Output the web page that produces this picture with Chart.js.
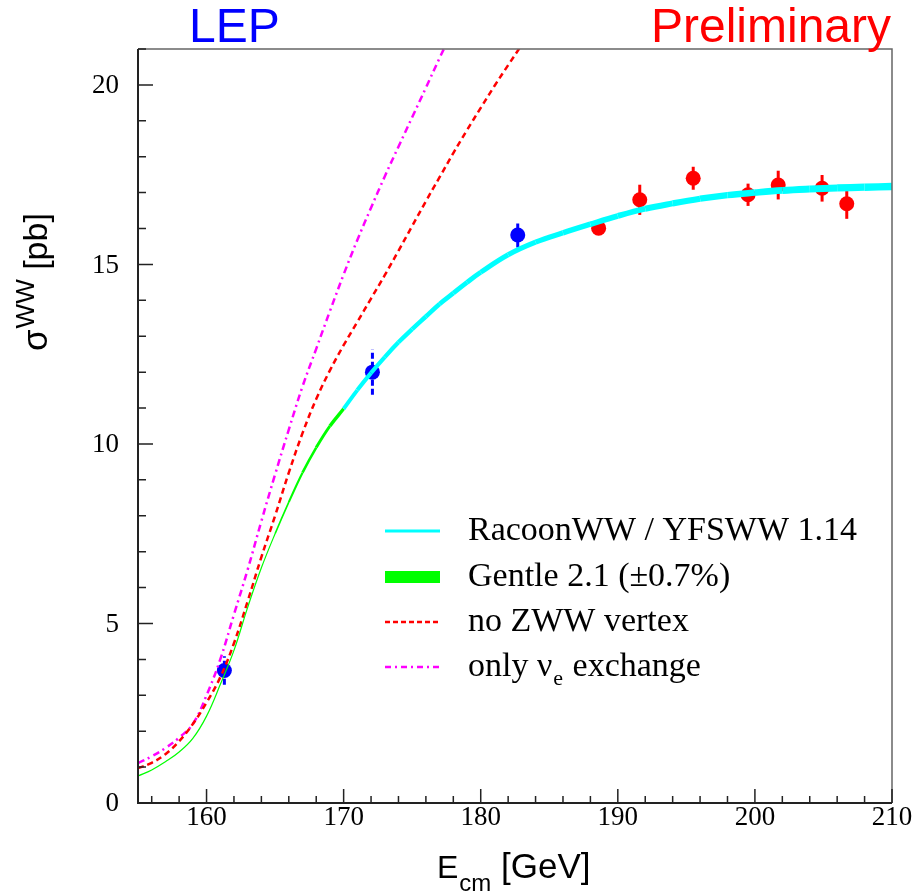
<!DOCTYPE html>
<html>
<head>
<meta charset="utf-8">
<script src="https://cdn.jsdelivr.net/npm/chart.js@4.4.1/dist/chart.umd.min.js"></script>
<style>
  html, body { margin: 0; padding: 0; background: #fff; }
  #wrap { width: 916px; height: 895px; }
</style>
</head>
<body>
<div id="wrap"><canvas id="ww-chart" width="916" height="895"></canvas></div>
<script>
// W-pair cross section vs centre-of-mass energy
var racoonE = [170, 171, 172, 173, 174, 175, 176, 177, 178, 179, 180, 182, 184, 186, 188, 190, 192, 194, 196, 198, 200, 202, 204, 206, 208, 210];
var racoonXsec = [10.98, 11.5, 11.98, 12.42, 12.83, 13.2, 13.55, 13.9, 14.2, 14.5, 14.78, 15.27, 15.62, 15.88, 16.12, 16.35, 16.55, 16.7, 16.83, 16.93, 17.0, 17.06, 17.1, 17.13, 17.15, 17.17];

var gentleE = [155, 156, 157, 158, 159, 160, 161, 162, 163, 164, 165, 166, 167, 168, 169, 170];
var gentleXsec = [0.75, 0.92, 1.15, 1.42, 1.8, 2.42, 3.3, 4.25, 5.45, 6.55, 7.5, 8.38, 9.2, 9.9, 10.5, 10.98];

var noZwwE = [155, 156, 157, 158, 159, 160, 161, 162, 163, 164, 165, 166, 167, 168, 169, 170, 171, 172, 173, 174, 175, 176, 177, 178, 179, 180, 181, 182, 183];
var noZwwXsec = [0.97, 1.12, 1.36, 1.72, 2.2, 2.8, 3.5, 4.45, 5.62, 6.85, 8.0, 9.2, 10.3, 11.25, 12.05, 12.75, 13.4, 14.05, 14.7, 15.38, 16.07, 16.76, 17.43, 18.1, 18.74, 19.36, 19.97, 20.55, 21.12];

var onlyNueE = [155, 156, 157, 158, 159, 160, 161, 162, 163, 164, 165, 166, 167, 168, 169, 170, 171, 172, 173, 174, 175, 176, 177, 178];
var onlyNueXsec = [1.11, 1.3, 1.53, 1.82, 2.2, 3.0, 4.0, 5.25, 6.5, 7.85, 9.15, 10.4, 11.6, 12.65, 13.7, 14.72, 15.68, 16.58, 17.45, 18.28, 19.1, 19.92, 20.75, 21.55];

// measurements
var lepE = [161.3, 172.1, 182.7];
var lepXsec = [3.69, 12.0, 15.82];
var lepErr = [0.40, 0.63, 0.35];

var prelimE = [188.6, 191.6, 195.5, 199.5, 201.7, 204.9, 206.7];
var prelimXsec = [16.01, 16.80, 17.40, 16.94, 17.21, 17.12, 16.69];
var prelimErr = [0.18, 0.42, 0.32, 0.31, 0.40, 0.37, 0.42];

var xTicks = [160, 170, 180, 190, 200, 210];
var yTicks = [0, 5, 10, 15, 20];

var SANS = '"Liberation Sans", Arial, sans-serif';
var SERIF = '"Liberation Serif", "Times New Roman", serif';

function pts(xs, ys) {
  return xs.map(function (x, i) { return { x: x, y: ys[i] }; });
}

// draws the vertical error bar of each measurement just before its markers
var errorBars = {
  id: 'errorBars',
  beforeDatasetDraw: function (chart, args) {
    var ds = chart.data.datasets[args.index];
    if (!ds.errors) return;
    var xs = chart.scales.x, ys = chart.scales.y, ctx = chart.ctx;
    ctx.save();
    ctx.strokeStyle = ds.pointBackgroundColor;
    ctx.lineWidth = 3;
    ctx.setLineDash(ds.errorDash || []);
    ds.data.forEach(function (p, i) {
      var px = xs.getPixelForValue(p.x);
      ctx.beginPath();
      ctx.moveTo(px, ys.getPixelForValue(p.y - ds.errors[i]));
      ctx.lineTo(px, ys.getPixelForValue(p.y + ds.errors[i]));
      ctx.stroke();
    });
    ctx.restore();
  }
};

// frame, inward ticks, labels, titles and the legend box
var decorations = {
  id: 'decorations',
  afterDraw: function (chart) {
    var ctx = chart.ctx, a = chart.chartArea;
    var xs = chart.scales.x, ys = chart.scales.y;
    ctx.save();

    // top and right edges
    ctx.strokeStyle = '#666';
    ctx.lineWidth = 1.5;
    ctx.beginPath();
    ctx.moveTo(a.left, a.top); ctx.lineTo(a.right, a.top); ctx.lineTo(a.right, a.bottom);
    ctx.stroke();

    // axes
    ctx.strokeStyle = '#222';
    ctx.lineWidth = 2;
    ctx.beginPath();
    ctx.moveTo(a.left, a.top); ctx.lineTo(a.left, a.bottom); ctx.lineTo(a.right, a.bottom);
    ctx.stroke();

    ctx.lineWidth = 1.5;
    ctx.beginPath();
    for (var v = 0; v <= 21; v++) {
      var py = ys.getPixelForValue(v);
      var len = (v % 5 === 0) ? 15 : 8;
      ctx.moveTo(a.left, py); ctx.lineTo(a.left + len, py);
    }
    for (var e = 156; e <= 210; e += 2) {
      var px = xs.getPixelForValue(e);
      var l2 = (e % 10 === 0) ? 14 : 7;
      ctx.moveTo(px, a.bottom); ctx.lineTo(px, a.bottom - l2);
    }
    ctx.stroke();

    // tick labels
    ctx.fillStyle = '#000';
    ctx.font = '27px ' + SERIF;
    ctx.textAlign = 'right';
    ctx.textBaseline = 'middle';
    yTicks.forEach(function (t) { ctx.fillText(String(t), a.left - 19, ys.getPixelForValue(t) + 1); });
    ctx.textAlign = 'center';
    ctx.textBaseline = 'alphabetic';
    xTicks.forEach(function (t) { ctx.fillText(String(t), xs.getPixelForValue(t), 825); });

    // x title
    ctx.textAlign = 'left';
    ctx.font = '32px ' + SANS;
    ctx.fillText('E', 437, 878);
    var wE = ctx.measureText('E').width;
    ctx.font = '24px ' + SANS;
    ctx.fillText('cm', 437 + wE + 1, 891);
    var wCm = ctx.measureText('cm').width;
    ctx.font = '35px ' + SANS;
    ctx.fillText(' [GeV]', 437 + wE + 1 + wCm, 878);

    // y title
    ctx.save();
    ctx.translate(47, 351);
    ctx.rotate(-Math.PI / 2);
    ctx.font = '35px ' + SANS;
    ctx.fillText('\u03c3', 0, 0);
    var wS = ctx.measureText('\u03c3').width;
    ctx.font = '26px ' + SANS;
    ctx.fillText('WW', wS + 1, -13);
    var wW = ctx.measureText('WW').width;
    ctx.font = '34px ' + SANS;
    ctx.fillText(' [pb]', wS + 1 + wW, 0);
    ctx.restore();

    // headline labels
    ctx.font = '48px ' + SANS;
    ctx.fillStyle = '#0000ff';
    ctx.textAlign = 'left';
    ctx.fillText('LEP', 189, 42);
    ctx.fillStyle = '#ff0000';
    ctx.textAlign = 'right';
    ctx.fillText('Preliminary', 891, 42);

    // legend
    var rows = [531, 577, 622, 667];
    var x0 = 385, x1 = 440, tx = 468;
    var ds = chart.data.datasets;
    ctx.textAlign = 'left';
    ctx.textBaseline = 'middle';
    for (var i = 0; i < 4; i++) {
      var d = ds[i], ry = rows[i];
      if (i === 1) {
        ctx.fillStyle = d.borderColor;
        ctx.fillRect(x0, ry - 6, x1 - x0, 12);
      } else {
        ctx.strokeStyle = d.borderColor;
        ctx.lineWidth = i === 0 ? 3 : 2.5;
        ctx.setLineDash(d.legendDash || []);
        ctx.beginPath();
        ctx.moveTo(x0, ry); ctx.lineTo(x1, ry);
        ctx.stroke();
        ctx.setLineDash([]);
      }
      ctx.fillStyle = '#000';
      ctx.font = '34px ' + SERIF;
      if (i === 3) {
        ctx.fillText('only \u03bd', tx, ry);
        var wn = ctx.measureText('only \u03bd').width;
        ctx.font = '22px ' + SERIF;
        ctx.fillText('e', tx + wn + 1, ry + 12);
        var we = ctx.measureText('e').width;
        ctx.font = '34px ' + SERIF;
        ctx.fillText(' exchange', tx + wn + 2 + we, ry);
      } else {
        ctx.fillText(d.label, tx, ry);
      }
    }
    ctx.restore();
  }
};

var chart = new Chart(document.getElementById('ww-chart'), {
  type: 'scatter',
  data: {
    datasets: [
      {
        label: 'RacoonWW / YFSWW 1.14',
        data: pts(racoonE, racoonXsec),
        showLine: true,
        borderColor: '#00ffff',
        borderWidth: 5,
        segment: {
          borderWidth: function (c) { return 4 + (c.p0.parsed.x - 170) * 0.09; }
        },
        pointRadius: 0,
        tension: 0.4,
        clip: 0
      },
      {
        label: 'Gentle 2.1 (\u00b10.7%)',
        data: pts(gentleE, gentleXsec),
        showLine: true,
        borderColor: '#00ff00',
        borderWidth: 1.2,
        segment: {
          borderWidth: function (c) {
            var x = c.p0.parsed.x;
            return x < 164 ? 1.2 : Math.min(3.5, 1.2 + (x - 164) * 0.45);
          }
        },
        pointRadius: 0,
        tension: 0.4,
        clip: 0
      },
      {
        label: 'no ZWW vertex',
        data: pts(noZwwE, noZwwXsec),
        showLine: true,
        borderColor: '#ff0000',
        borderWidth: 2.5,
        borderDash: [6, 4],
        legendDash: [5, 3],
        pointRadius: 0,
        tension: 0.4,
        clip: 0
      },
      {
        label: 'only \u03bde exchange',
        data: pts(onlyNueE, onlyNueXsec),
        showLine: true,
        borderColor: '#ff00ff',
        borderWidth: 2.5,
        borderDash: [7, 4, 2, 4],
        legendDash: [6, 4, 2, 4],
        pointRadius: 0,
        tension: 0.4,
        clip: 0
      },
      {
        label: 'LEP',
        data: pts(lepE, lepXsec),
        errors: lepErr,
        errorDash: [6, 3],
        pointRadius: 7.5,
        pointBorderWidth: 0,
        pointBackgroundColor: '#0000ff',
        borderColor: '#0000ff'
      },
      {
        label: 'Preliminary',
        data: pts(prelimE, prelimXsec),
        errors: prelimErr,
        pointRadius: 7.5,
        pointBorderWidth: 0,
        pointBackgroundColor: '#ff0000',
        borderColor: '#ff0000'
      }
    ]
  },
  options: {
    responsive: false,
    animation: false,
    events: [],
    layout: { padding: { left: 138, right: 24, top: 49, bottom: 92 } },
    plugins: { legend: { display: false }, tooltip: { enabled: false } },
    scales: {
      x: { type: 'linear', min: 155, max: 210, display: false },
      y: { type: 'linear', min: 0, max: 21, display: false }
    }
  },
  plugins: [errorBars, decorations]
});
</script>
</body>
</html>
